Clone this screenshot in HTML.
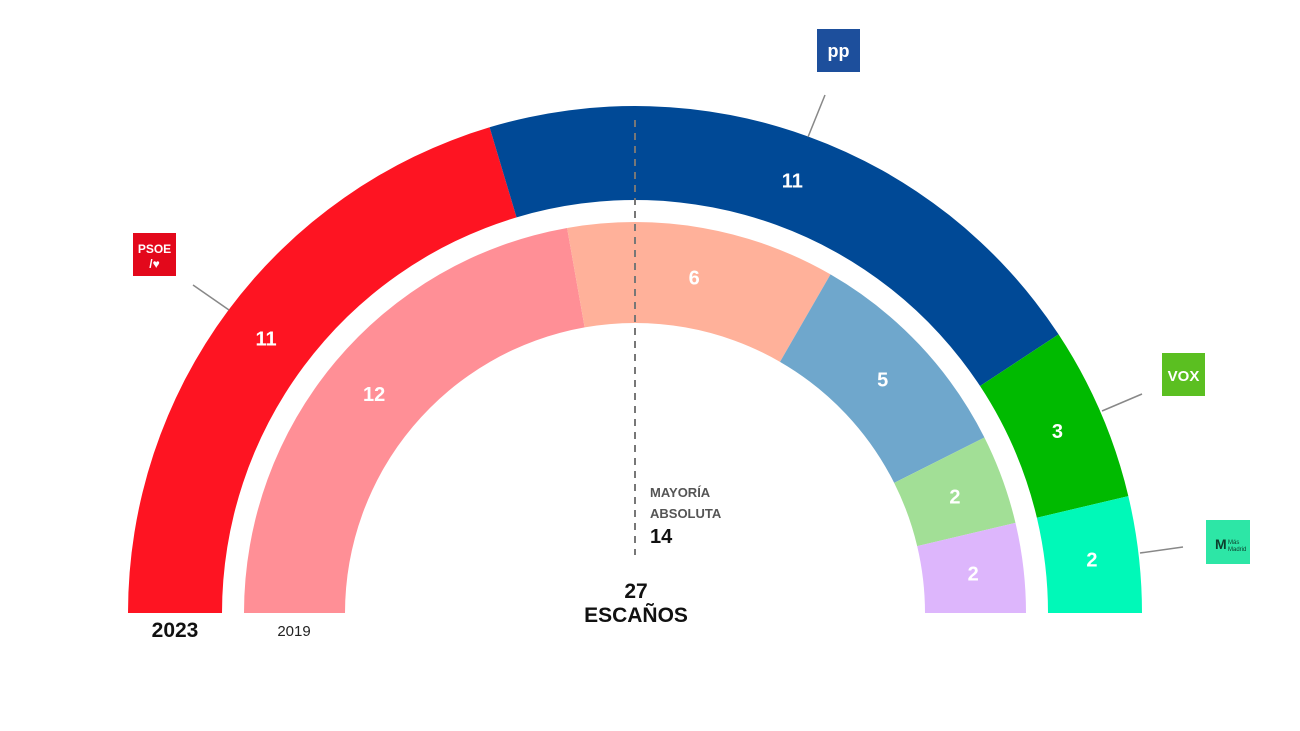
<!DOCTYPE html>
<html><head><meta charset="utf-8"><style>
html,body{margin:0;padding:0;background:#fff;}
svg{display:block;font-family:"Liberation Sans",sans-serif;}
</style></head><body>
<svg id="chart" width="1300" height="731" viewBox="0 0 1300 731">
<g id="arcs"></g>
<line x1="635" y1="120" x2="635" y2="555" stroke="#777" stroke-width="2" stroke-dasharray="7,6"/>
<text x="650" y="497" font-size="13" font-weight="bold" fill="#555">MAYORÍA</text>
<text x="650" y="518" font-size="13" font-weight="bold" fill="#555">ABSOLUTA</text>
<text x="650" y="543" font-size="20" font-weight="bold" fill="#111">14</text>
<text x="636" y="598" font-size="21" font-weight="bold" fill="#111" text-anchor="middle">27</text>
<text x="636" y="622" font-size="21" font-weight="bold" fill="#111" text-anchor="middle">ESCAÑOS</text>
<text x="175" y="637" font-size="21" font-weight="bold" fill="#111" text-anchor="middle">2023</text>
<text x="294" y="636" font-size="15" fill="#222" text-anchor="middle">2019</text>
<g stroke="#888" stroke-width="1.5">
<line x1="193" y1="285" x2="229" y2="310"/>
<line x1="825" y1="95" x2="808" y2="137"/>
<line x1="1142" y1="394" x2="1102" y2="411"/>
<line x1="1183" y1="547" x2="1140" y2="553"/>
</g>
<g>
<rect x="133" y="233" width="43" height="43" fill="#e3081b"/>
<text x="154.5" y="253" font-size="12" font-weight="bold" fill="#fff" text-anchor="middle">PSOE</text>
<text x="154.5" y="268" font-size="12" font-weight="bold" fill="#fff" text-anchor="middle">/♥</text>
</g>
<g>
<rect x="817" y="29" width="43" height="43" fill="#1d4f9c"/>
<text x="838.5" y="57" font-size="18" font-weight="bold" fill="#fff" text-anchor="middle">pp</text>
</g>
<g>
<rect x="1162" y="353" width="43" height="43" fill="#5bbf21"/>
<text x="1183.5" y="381" font-size="15" font-weight="bold" fill="#fff" text-anchor="middle">VOX</text>
</g>
<g>
<rect x="1206" y="520" width="44" height="44" fill="#2de6a6"/>
<text x="1215" y="549" font-size="14" font-weight="bold" fill="#0d3d2c">M</text>
<text x="1228" y="544" font-size="6" fill="#0d3d2c">Más</text>
<text x="1228" y="551" font-size="6" fill="#0d3d2c">Madrid</text>
</g>
</svg>
<script>
const totalSeats = 27;
const outerParties = ['PSOE','PP','VOX','Más Madrid'];
const outerSeats = [11, 11, 3, 2];
const outerColors = ['#fe1422','#004996','#00ba00','#00f9b8'];
const innerParties = ['PSOE','Cs','PP','VOX','Más Madrid'];
const innerSeats = [12, 6, 5, 2, 2];
const innerColors = ['#ff8f96','#ffb19a','#6fa7cc','#a2df96','#ddb6fc'];

const cx = 635, cy = 613;
const g = document.getElementById('arcs');
const NS = 'http://www.w3.org/2000/svg';
function angleOf(seat){ return Math.PI - seat / totalSeats * Math.PI; }
function pt(r,a){ return [cx + r*Math.cos(a), cy - r*Math.sin(a)]; }
function ring(seats, colors, names, r0, r1, ringName){
  let acc = 0;
  seats.forEach((s,i)=>{
    const a0 = angleOf(acc), a1 = angleOf(acc + s);
    const p1 = pt(r1,a0), p2 = pt(r1,a1), p3 = pt(r0,a1), p4 = pt(r0,a0);
    const large = (a0 - a1) > Math.PI ? 1 : 0;
    const path = document.createElementNS(NS,'path');
    path.setAttribute('d', `M${p1[0]},${p1[1]} A${r1},${r1} 0 ${large} 1 ${p2[0]},${p2[1]} L${p3[0]},${p3[1]} A${r0},${r0} 0 ${large} 0 ${p4[0]},${p4[1]} Z`);
    path.setAttribute('fill', colors[i]);
    
    
    g.appendChild(path);
    const am = (a0 + a1) / 2;
    const lp = pt((r0 + r1) / 2, am);
    const t = document.createElementNS(NS,'text');
    t.setAttribute('x', lp[0]); t.setAttribute('y', lp[1] + 7);
    t.setAttribute('text-anchor','middle');
    t.setAttribute('font-size','20'); t.setAttribute('font-weight','bold');
    t.setAttribute('fill','#fff');
    
    
    t.textContent = s;
    g.appendChild(t);
    acc += s;
  });
}
ring(outerSeats, outerColors, outerParties, 413, 507, 'outer-2023');
ring(innerSeats, innerColors, innerParties, 290, 391, 'inner-2019');
</script>
</body></html>
